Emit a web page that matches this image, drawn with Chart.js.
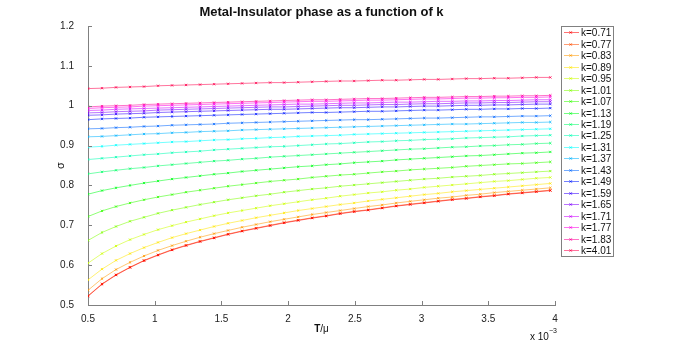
<!DOCTYPE html>
<html lang="en">
<head>
  <meta charset="UTF-8">
  <title>Metal-Insulator phase as a function of k</title>
  <script src="https://cdn.jsdelivr.net/npm/chart.js"></script>
  <style>
    html, body { margin: 0; padding: 0; background: #fff; }
    #wrap { width: 678px; height: 343px; }
  </style>
</head>
<body>
  <div id="wrap"><canvas id="sigmaChart" width="678" height="343"></canvas></div>

  <script>
    // T/mu values (x 10^-3)
    const tValues = [0.5, 0.605, 0.71, 0.815, 0.92, 1.025, 1.13, 1.235, 1.34, 1.445, 1.55, 1.655, 1.76, 1.865, 1.97, 2.075, 2.18,
      2.285, 2.39, 2.495, 2.6, 2.705, 2.81, 2.915, 3.02, 3.125, 3.23, 3.335, 3.44, 3.545, 3.65, 3.755, 3.86, 3.965];

    const kLabels = ['k=0.71', 'k=0.77', 'k=0.83', 'k=0.89', 'k=0.95', 'k=1.01', 'k=1.07', 'k=1.13', 'k=1.19', 'k=1.25',
      'k=1.31', 'k=1.37', 'k=1.43', 'k=1.49', 'k=1.59', 'k=1.65', 'k=1.71', 'k=1.77', 'k=1.83', 'k=4.01'];

    // sigma for each k
    const sigma071 = [0.522,0.552,0.575,0.594,0.611,0.625,0.638,0.649,0.659,0.668,0.677,0.685,0.692,0.699,0.706,0.712,0.718,0.723,0.729,0.734,0.738,0.743,0.748,0.752,0.756,0.760,0.764,0.767,0.771,0.774,0.778,0.781,0.784,0.787];
    const sigma077 = [0.523,0.553,0.576,0.595,0.612,0.626,0.639,0.650,0.660,0.669,0.678,0.686,0.693,0.700,0.707,0.713,0.719,0.724,0.730,0.735,0.739,0.744,0.749,0.753,0.757,0.761,0.765,0.768,0.772,0.775,0.779,0.782,0.785,0.788];
    const sigma083 = [0.537,0.566,0.589,0.607,0.623,0.637,0.649,0.660,0.670,0.679,0.687,0.695,0.702,0.709,0.715,0.721,0.727,0.732,0.737,0.742,0.747,0.751,0.756,0.760,0.764,0.768,0.771,0.775,0.778,0.782,0.785,0.788,0.791,0.794];
    const sigma089 = [0.563,0.590,0.612,0.629,0.644,0.657,0.669,0.679,0.688,0.697,0.705,0.712,0.719,0.725,0.731,0.737,0.742,0.747,0.752,0.756,0.761,0.765,0.769,0.773,0.777,0.780,0.784,0.787,0.790,0.793,0.796,0.799,0.802,0.805];
    const sigma095 = [0.605,0.629,0.648,0.664,0.677,0.689,0.699,0.708,0.716,0.724,0.731,0.737,0.743,0.749,0.754,0.759,0.764,0.768,0.773,0.777,0.781,0.784,0.788,0.791,0.795,0.798,0.801,0.804,0.807,0.810,0.812,0.815,0.818,0.820];
    const sigma101 = [0.662,0.682,0.697,0.710,0.720,0.730,0.738,0.745,0.752,0.758,0.764,0.769,0.774,0.778,0.783,0.787,0.791,0.794,0.798,0.801,0.804,0.807,0.810,0.813,0.816,0.818,0.821,0.823,0.825,0.828,0.830,0.832,0.834,0.836];
    const sigma107 = [0.722,0.736,0.747,0.756,0.764,0.771,0.777,0.783,0.788,0.793,0.798,0.802,0.806,0.810,0.813,0.816,0.820,0.823,0.826,0.828,0.831,0.834,0.836,0.839,0.841,0.843,0.845,0.848,0.850,0.852,0.854,0.855,0.857,0.859];
    const sigma113 = [0.778,0.787,0.794,0.800,0.806,0.811,0.816,0.820,0.824,0.828,0.831,0.835,0.838,0.841,0.844,0.847,0.849,0.852,0.854,0.857,0.859,0.861,0.864,0.866,0.868,0.870,0.872,0.874,0.875,0.877,0.879,0.881,0.882,0.884];
    const sigma119 = [0.829,0.834,0.838,0.842,0.845,0.849,0.852,0.855,0.858,0.861,0.863,0.866,0.868,0.871,0.873,0.875,0.877,0.879,0.881,0.883,0.885,0.887,0.889,0.891,0.892,0.894,0.896,0.897,0.899,0.900,0.902,0.903,0.905,0.906];
    const sigma125 = [0.865,0.868,0.871,0.874,0.877,0.879,0.882,0.884,0.886,0.889,0.891,0.893,0.895,0.897,0.898,0.900,0.902,0.904,0.905,0.907,0.909,0.910,0.912,0.913,0.915,0.916,0.917,0.919,0.920,0.921,0.922,0.924,0.925,0.926];
    const sigma131 = [0.896,0.898,0.901,0.903,0.905,0.907,0.909,0.910,0.912,0.914,0.915,0.917,0.918,0.920,0.921,0.923,0.924,0.925,0.926,0.928,0.929,0.930,0.931,0.932,0.933,0.934,0.935,0.936,0.937,0.938,0.939,0.940,0.941,0.942];
    const sigma137 = [0.922,0.923,0.925,0.927,0.929,0.930,0.932,0.933,0.935,0.936,0.937,0.939,0.940,0.941,0.942,0.943,0.944,0.945,0.946,0.947,0.948,0.949,0.950,0.951,0.952,0.953,0.954,0.954,0.955,0.956,0.957,0.958,0.958,0.959];
    const sigma143 = [0.942,0.943,0.945,0.946,0.948,0.949,0.951,0.952,0.953,0.954,0.956,0.957,0.958,0.959,0.960,0.961,0.962,0.963,0.964,0.965,0.965,0.966,0.967,0.968,0.969,0.969,0.970,0.971,0.972,0.972,0.973,0.974,0.974,0.975];
    const sigma149 = [0.965,0.967,0.968,0.969,0.971,0.972,0.973,0.974,0.975,0.976,0.977,0.978,0.979,0.980,0.981,0.982,0.983,0.983,0.984,0.985,0.986,0.986,0.987,0.988,0.989,0.989,0.990,0.991,0.991,0.992,0.992,0.993,0.993,0.994];
    const sigma159 = [0.976,0.977,0.979,0.980,0.981,0.983,0.984,0.985,0.986,0.987,0.988,0.989,0.990,0.991,0.991,0.992,0.993,0.994,0.995,0.995,0.996,0.997,0.997,0.998,0.999,0.999,1.000,1.001,1.001,1.002,1.002,1.003,1.004,1.004];
    const sigma165 = [0.982,0.983,0.985,0.986,0.987,0.989,0.990,0.991,0.992,0.993,0.994,0.995,0.996,0.997,0.997,0.998,0.999,1.000,1.001,1.001,1.002,1.003,1.003,1.004,1.005,1.005,1.006,1.007,1.007,1.008,1.008,1.009,1.010,1.010];
    const sigma171 = [0.988,0.989,0.991,0.992,0.993,0.994,0.995,0.996,0.997,0.998,0.999,1.000,1.001,1.002,1.003,1.004,1.004,1.005,1.006,1.007,1.007,1.008,1.009,1.009,1.010,1.011,1.011,1.012,1.012,1.013,1.013,1.014,1.015,1.015];
    const sigma177 = [0.993,0.995,0.996,0.997,0.999,1.000,1.001,1.002,1.003,1.004,1.005,1.006,1.007,1.008,1.009,1.010,1.011,1.011,1.012,1.013,1.014,1.014,1.015,1.016,1.017,1.017,1.018,1.019,1.019,1.020,1.020,1.021,1.021,1.022];
    const sigma183 = [0.997,0.999,1.000,1.001,1.003,1.004,1.005,1.006,1.007,1.008,1.009,1.010,1.011,1.012,1.013,1.014,1.015,1.015,1.016,1.017,1.018,1.018,1.019,1.020,1.021,1.021,1.022,1.023,1.023,1.024,1.024,1.025,1.025,1.026];
    const sigma401 = [1.043,1.044,1.046,1.047,1.048,1.050,1.051,1.052,1.053,1.054,1.055,1.056,1.057,1.058,1.058,1.059,1.060,1.061,1.062,1.062,1.063,1.064,1.064,1.065,1.066,1.066,1.067,1.068,1.068,1.069,1.069,1.070,1.071,1.071];

    const sigmaSeries = [sigma071, sigma077, sigma083, sigma089, sigma095, sigma101, sigma107, sigma113, sigma119, sigma125,
      sigma131, sigma137, sigma143, sigma149, sigma159, sigma165, sigma171, sigma177, sigma183, sigma401];

    // tick labels
    const xTickValues = [0.5, 1, 1.5, 2, 2.5, 3, 3.5, 4];
    const yTickValues = [0.5, 0.6, 0.7, 0.8, 0.9, 1, 1.1, 1.2];

    // hsv colormap, 20 steps
    const lineColors = ['255,0,0', '255,77,0', '255,153,0', '255,230,0', '204,255,0', '128,255,0', '51,255,0', '0,255,26',
      '0,255,102', '0,255,179', '0,255,255', '0,179,255', '0,102,255', '0,26,255', '51,0,255', '128,0,255', '204,0,255',
      '255,0,230', '255,0,153', '255,0,77'];

    const FONT = '"Liberation Sans", Arial, Helvetica, sans-serif';
    const AXIS_GRAY = '#808080';

    const datasets = sigmaSeries.map((series, i) => ({
      label: kLabels[i],
      data: series.map((v, j) => ({ x: tValues[j], y: v })),
      borderColor: 'rgba(' + lineColors[i] + ',0.55)',
      backgroundColor: 'rgba(' + lineColors[i] + ',0.8)',
      pointBorderColor: 'rgba(' + lineColors[i] + ',0.8)',
      borderWidth: 1,
      pointStyle: 'crossRot',
      pointRadius: 1.6,
      pointBorderWidth: 1,
      tension: 0,
      fill: false
    }));

    // ticks pointing inward, title, axis labels and boxed legend, drawn like the original figure
    const matlabLook = {
      id: 'matlabLook',
      afterDraw(chart) {
        const ctx = chart.ctx;
        const area = chart.chartArea;
        const xs = chart.scales.x;
        const ys = chart.scales.y;
        ctx.save();

        // tick marks
        ctx.strokeStyle = AXIS_GRAY;
        ctx.lineWidth = 1;
        ctx.beginPath();
        xs.ticks.forEach(t => {
          const px = Math.round(xs.getPixelForValue(t.value)) + 0.5;
          ctx.moveTo(px, area.bottom);
          ctx.lineTo(px, area.bottom - 4);
        });
        ys.ticks.forEach(t => {
          const py = Math.round(ys.getPixelForValue(t.value)) + 0.5;
          ctx.moveTo(area.left, py);
          ctx.lineTo(area.left + 4, py);
        });
        ctx.stroke();

        // title
        ctx.fillStyle = '#111';
        ctx.textAlign = 'center';
        ctx.textBaseline = 'middle';
        ctx.font = 'bold 13px ' + FONT;
        ctx.fillText('Metal-Insulator phase as a function of k', (area.left + area.right) / 2, 12);

        // x label  T/mu
        const midX = (area.left + area.right) / 2;
        ctx.font = 'bold 10px ' + FONT;
        const tW = ctx.measureText('T').width;
        ctx.font = '10px ' + FONT;
        const muW = ctx.measureText('/\u03bc').width;
        ctx.textAlign = 'left';
        ctx.font = 'bold 10px ' + FONT;
        ctx.fillText('T', midX - (tW + muW) / 2, 329);
        ctx.font = '10px ' + FONT;
        ctx.fillText('/\u03bc', midX - (tW + muW) / 2 + tW, 329);

        // exponent  x 10^-3
        ctx.font = '10px ' + FONT;
        ctx.fillText('x 10', 530, 337);
        ctx.font = '7px ' + FONT;
        ctx.fillText('\u22123', 549, 331);

        // y label sigma
        ctx.save();
        ctx.translate(61, (area.top + area.bottom) / 2);
        ctx.rotate(-Math.PI / 2);
        ctx.textAlign = 'center';
        ctx.font = '11px ' + FONT;
        ctx.fillText('\u03c3', 0, 0);
        ctx.restore();

        // legend box
        const lx = 561.5, ly = 26.5, lw = 52, lh = 230;
        ctx.fillStyle = '#fff';
        ctx.fillRect(lx, ly, lw, lh);
        ctx.strokeStyle = AXIS_GRAY;
        ctx.strokeRect(lx, ly, lw, lh);
        ctx.font = '10px ' + FONT;
        ctx.textAlign = 'left';
        ctx.textBaseline = 'middle';
        kLabels.forEach((lab, i) => {
          const y = Math.round(32.3 + i * 11.46) + 0.5;
          ctx.strokeStyle = 'rgba(' + lineColors[i] + ',0.55)';
          ctx.beginPath();
          ctx.moveTo(564, y);
          ctx.lineTo(579, y);
          ctx.stroke();
          ctx.strokeStyle = 'rgba(' + lineColors[i] + ',0.8)';
          ctx.beginPath();
          ctx.moveTo(569.5, y - 1.2);
          ctx.lineTo(571.9, y + 1.2);
          ctx.moveTo(569.5, y + 1.2);
          ctx.lineTo(571.9, y - 1.2);
          ctx.stroke();
          ctx.fillStyle = '#111';
          ctx.fillText(lab, 581, y + 0.5);
        });

        ctx.restore();
      }
    };

    const tickText = v => String(Number(v.toFixed(2)));

    const sigmaChart = new Chart(document.getElementById('sigmaChart'), {
      type: 'line',
      data: { datasets: datasets },
      options: {
        responsive: false,
        animation: false,
        devicePixelRatio: 1,
        layout: { padding: { left: 0, top: 26, right: 123, bottom: 0 } },
        plugins: {
          legend: { display: false },
          title: { display: false },
          tooltip: { enabled: false }
        },
        scales: {
          x: {
            type: 'linear',
            min: xTickValues[0],
            max: xTickValues[xTickValues.length - 1],
            afterFit: s => { s.height = 38; },
            afterBuildTicks: s => { s.ticks = xTickValues.map(v => ({ value: v })); },
            grid: { display: false },
            border: { display: true, color: AXIS_GRAY, width: 1 },
            ticks: {
              padding: 0,
              maxRotation: 0,
              color: '#222',
              font: { family: FONT, size: 10 },
              callback: tickText
            }
          },
          y: {
            type: 'linear',
            min: yTickValues[0],
            max: yTickValues[yTickValues.length - 1],
            afterFit: s => { s.width = 88; },
            afterBuildTicks: s => { s.ticks = yTickValues.map(v => ({ value: v })); },
            grid: { display: false },
            border: { display: true, color: AXIS_GRAY, width: 1 },
            ticks: {
              padding: 6,
              color: '#222',
              font: { family: FONT, size: 10 },
              callback: tickText
            }
          }
        }
      },
      plugins: [matlabLook]
    });
  </script>
</body>
</html>
